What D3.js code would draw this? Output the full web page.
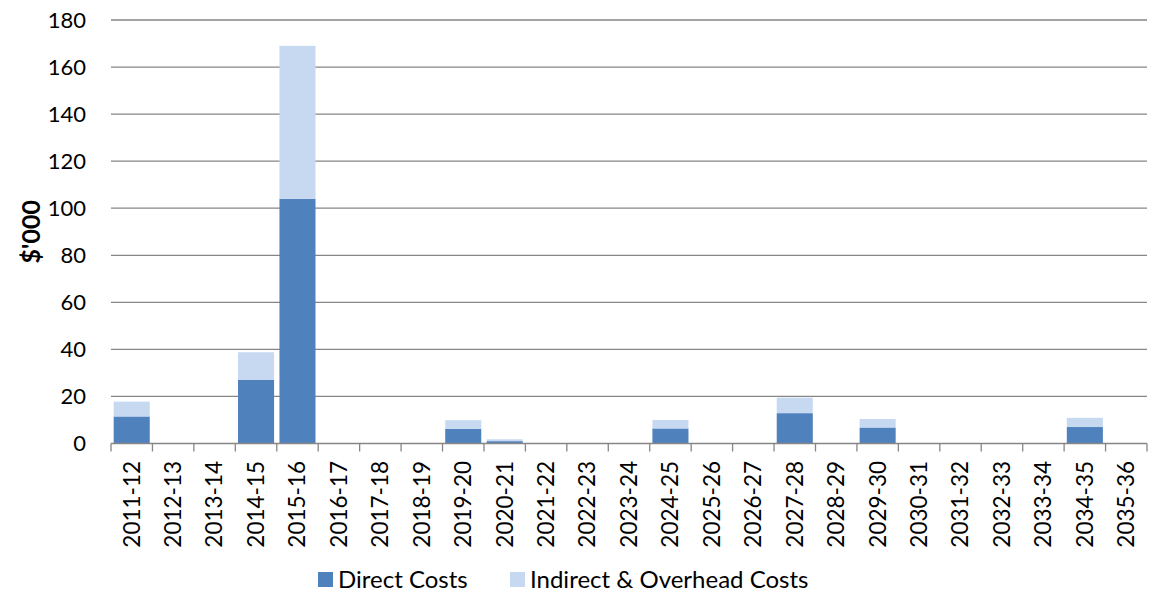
<!DOCTYPE html>
<html>
<head>
<meta charset="utf-8">
<script src="https://cdn.jsdelivr.net/npm/d3@7"></script>
<style>
  body { margin: 0; background: #fff; }
  text { font-family: Lato, "Open Sans", sans-serif; fill: #000; }
</style>
</head>
<body>
<svg id="chart" width="1152" height="594"></svg>
<script>
// Financial years on the x axis
const years = ["2011-12", "2012-13", "2013-14", "2014-15", "2015-16", "2016-17", "2017-18",
  "2018-19", "2019-20", "2020-21", "2021-22", "2022-23", "2023-24", "2024-25", "2025-26",
  "2026-27", "2027-28", "2028-29", "2029-30", "2030-31", "2031-32", "2032-33", "2033-34",
  "2034-35", "2035-36"];

// $'000
const directCosts = [11.5, 0, 0, 27, 104, 0, 0, 0, 6.2, 1.0, 0, 0, 0, 6.4, 0, 0, 12.9, 0, 6.8, 0, 0, 0, 0, 7.0, 0];
const indirectCosts = [6.3, 0, 0, 11.8, 65, 0, 0, 0, 3.7, 0.8, 0, 0, 0, 3.6, 0, 0, 6.6, 0, 3.6, 0, 0, 0, 0, 3.9, 0];

const yTicks = [0, 20, 40, 60, 80, 100, 120, 140, 160, 180];
const seriesNames = ["Direct Costs", "Indirect & Overhead Costs"];
const colors = ["#4F81BD", "#C6D9F1"];

const svg = d3.select("#chart");
const plotLeft = 111, plotRight = 1147, plotTop = 20, plotBottom = 443.5;

const x = d3.scaleBand().domain(years).range([plotLeft, plotRight]).paddingInner(0.13).paddingOuter(0.065);
const y = d3.scaleLinear().domain([0, 180]).range([plotBottom, plotTop]);

// gridlines
svg.append("g")
  .selectAll("line")
  .data(yTicks.filter(d => d > 0))
  .enter()
  .append("line")
  .attr("x1", plotLeft)
  .attr("x2", plotRight)
  .attr("y1", d => y(d))
  .attr("y2", d => y(d))
  .attr("stroke", "#868686")
  .attr("stroke-width", 1.3);

// y tick labels
svg.append("g")
  .selectAll("text")
  .data(yTicks)
  .enter()
  .append("text")
  .attr("x", 86)
  .attr("y", d => y(d))
  .attr("dy", "0.35em")
  .attr("text-anchor", "end")
  .style("font-size", "22px")
  .text(d => d);

// y axis title
svg.append("text")
  .attr("transform", `translate(31, ${(plotTop + plotBottom) / 2}) rotate(-90)`)
  .attr("text-anchor", "middle")
  .attr("dy", "0.35em")
  .style("font-size", "25px")
  .style("font-weight", "bold")
  .text("$'000");

// stacked bars
const table = years.map((yr, i) => ({ year: yr, direct: directCosts[i], indirect: indirectCosts[i] }));
const stack = d3.stack().keys(["direct", "indirect"])(table);

svg.append("g")
  .selectAll("g")
  .data(stack)
  .enter()
  .append("g")
  .attr("fill", (d, i) => colors[i])
  .selectAll("rect")
  .data(d => d.filter(p => p[1] > p[0]))
  .enter()
  .append("rect")
  .attr("x", d => x(d.data.year))
  .attr("width", x.bandwidth())
  .attr("y", d => y(d[1]))
  .attr("height", d => y(d[0]) - y(d[1]));

// x axis line and ticks between categories
const step = x.step();
const axis = svg.append("g");
axis.append("line")
  .attr("x1", plotLeft)
  .attr("x2", plotRight)
  .attr("y1", plotBottom)
  .attr("y2", plotBottom)
  .attr("stroke", "#868686")
  .attr("stroke-width", 1.3);

axis.selectAll(".tick")
  .data(d3.range(years.length + 1))
  .enter()
  .append("line")
  .attr("x1", i => plotLeft + i * step)
  .attr("x2", i => plotLeft + i * step)
  .attr("y1", plotBottom)
  .attr("y2", plotBottom + 8)
  .attr("stroke", "#868686")
  .attr("stroke-width", 1.3);

// rotated year labels
axis.selectAll(".lab")
  .data(years)
  .enter()
  .append("text")
  .attr("transform", d => `translate(${x(d) + x.bandwidth() / 2}, 461) rotate(-90)`)
  .attr("text-anchor", "end")
  .attr("dy", "0.35em")
  .style("font-size", "22.5px")
  .text(d => d);

// legend
const legendX = [318, 510];
const legend = svg.append("g");
seriesNames.forEach((name, i) => {
  legend.append("rect")
    .attr("x", legendX[i])
    .attr("y", 572)
    .attr("width", 15)
    .attr("height", 15)
    .attr("fill", colors[i]);
  legend.append("text")
    .attr("x", legendX[i] + 20)
    .attr("y", 580)
    .attr("dy", "0.35em")
    .style("font-size", "24px")
    .text(name);
});
</script>
</body>
</html>
